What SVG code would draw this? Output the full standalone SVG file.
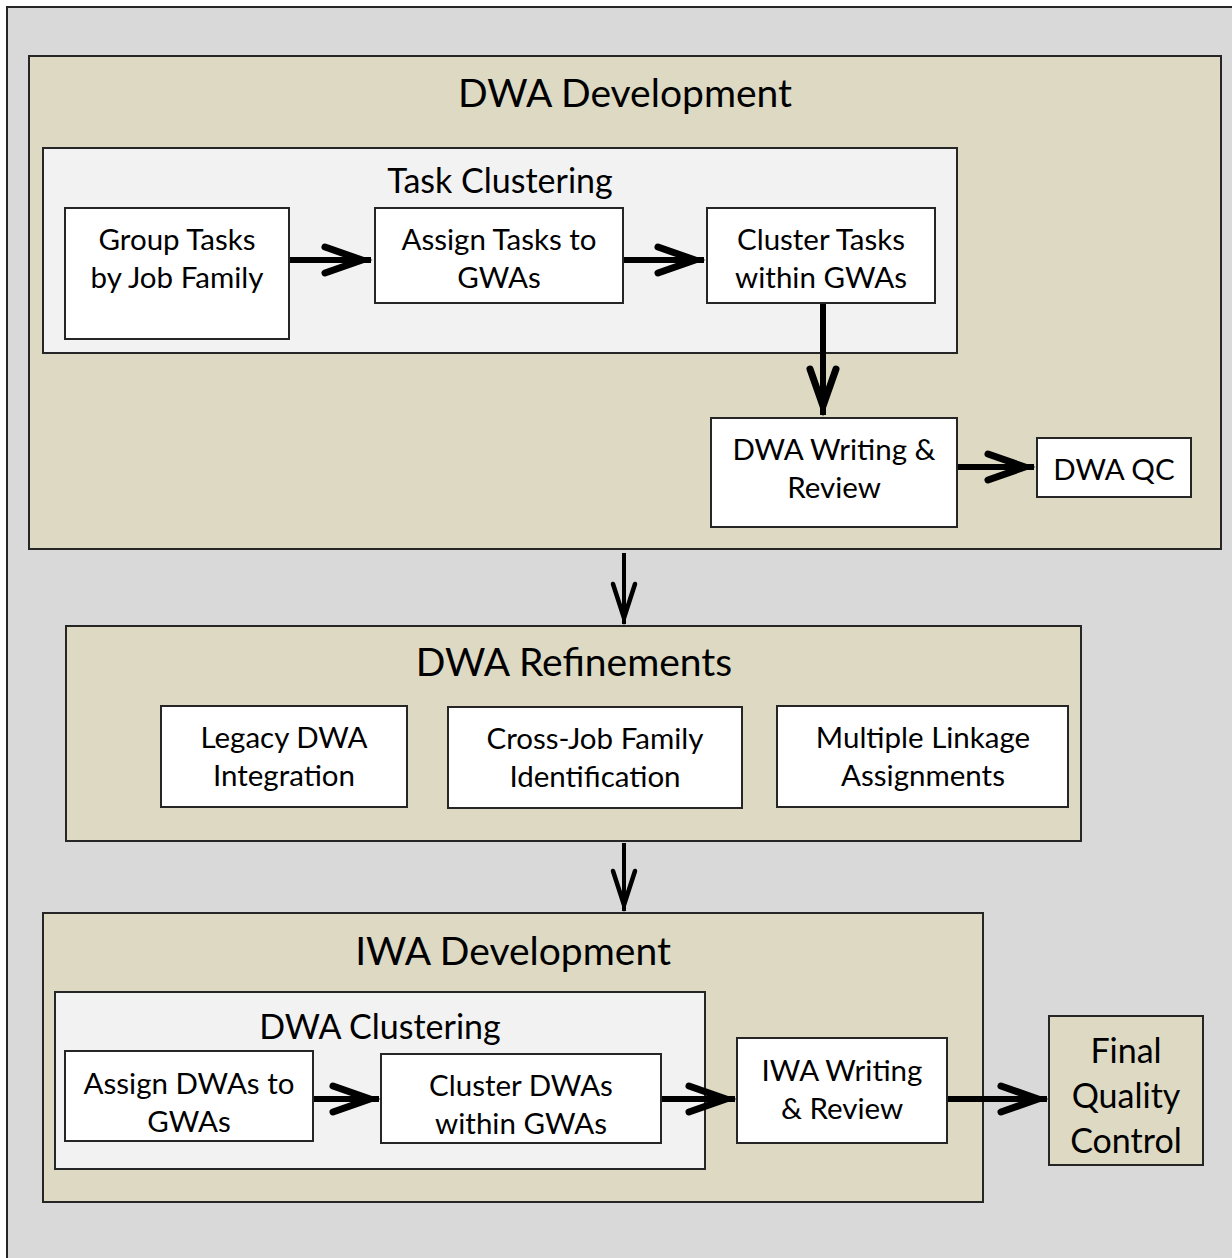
<svg xmlns="http://www.w3.org/2000/svg" width="1232" height="1258" viewBox="0 0 1232 1258">
<defs>
<style>
.outer{fill:#d9d9d9;stroke:#262626;stroke-width:2}
.tan{fill:#ddd9c3;stroke:#262626;stroke-width:2}
.light{fill:#f2f2f2;stroke:#262626;stroke-width:2}
.box{fill:#ffffff;stroke:#262626;stroke-width:2}
text{font-family:Lato,"Open Sans","Liberation Sans",sans-serif;fill:#000;text-anchor:middle}
.t{font-size:29.5px}
.h1{font-size:39px}
.h2{font-size:34px}
.fq{font-size:34px}
.conn{stroke:#000;stroke-width:6;fill:none}
.conn2{stroke:#000;stroke-width:4;fill:none}
</style>
<marker id="arr" markerUnits="userSpaceOnUse" viewBox="-55 -20 60 40" markerWidth="60" markerHeight="40" refX="0" refY="0" orient="auto" overflow="visible">
<path d="M-46,-13 L-9,0 L-46,13" fill="none" stroke="#000" stroke-width="7" stroke-linecap="round" stroke-linejoin="miter"/>
</marker>
<marker id="arrs" markerUnits="userSpaceOnUse" viewBox="-50 -20 55 40" markerWidth="55" markerHeight="40" refX="0" refY="0" orient="auto" overflow="visible">
<path d="M-40,-11 L-6,0 L-40,11" fill="none" stroke="#000" stroke-width="4.5" stroke-linecap="round" stroke-linejoin="miter"/>
</marker>
</defs>
<rect class="outer" x="7" y="7" width="1240" height="1270"/>

<g id="dwa-development">
<rect class="tan" x="29" y="56" width="1192" height="493"/>
<text class="h1" x="625" y="107">DWA Development</text>
</g>
<g id="task-clustering">
<rect class="light" x="43" y="148" width="914" height="205"/>
<text class="h2" x="500" y="193">Task Clustering</text>
</g>
<g id="group-tasks">
<rect class="box" x="65" y="208" width="224" height="131"/>
<text class="t" x="177" y="250">Group Tasks</text>
<text class="t" x="177" y="288">by Job Family</text>
</g>
<g id="assign-tasks">
<rect class="box" x="375" y="208" width="248" height="95"/>
<text class="t" x="499" y="250">Assign Tasks to</text>
<text class="t" x="499" y="288">GWAs</text>
</g>
<g id="cluster-tasks">
<rect class="box" x="707" y="208" width="228" height="95"/>
<text class="t" x="821" y="250">Cluster Tasks</text>
<text class="t" x="821" y="288">within GWAs</text>
</g>
<g id="dwa-writing">
<rect class="box" x="711" y="418" width="246" height="109"/>
<text class="t" x="834" y="460">DWA Writing &amp;</text>
<text class="t" x="834" y="498">Review</text>
</g>
<g id="dwa-qc">
<rect class="box" x="1037" y="438" width="154" height="59"/>
<text class="t" x="1114" y="480">DWA QC</text>
</g>

<g id="dwa-refinements">
<rect class="tan" x="66" y="626" width="1015" height="215"/>
<text class="h1" x="574" y="676">DWA Refinements</text>
</g>
<g id="legacy-dwa">
<rect class="box" x="161" y="706" width="246" height="101"/>
<text class="t" x="284" y="748">Legacy DWA</text>
<text class="t" x="284" y="786">Integration</text>
</g>
<g id="cross-job">
<rect class="box" x="448" y="707" width="294" height="101"/>
<text class="t" x="595" y="749">Cross-Job Family</text>
<text class="t" x="595" y="787">Identification</text>
</g>
<g id="multiple-linkage">
<rect class="box" x="777" y="706" width="291" height="101"/>
<text class="t" x="923" y="748">Multiple Linkage</text>
<text class="t" x="923" y="786">Assignments</text>
</g>

<g id="iwa-development">
<rect class="tan" x="43" y="913" width="940" height="289"/>
<text class="h1" x="513" y="965">IWA Development</text>
</g>
<g id="dwa-clustering">
<rect class="light" x="55" y="992" width="650" height="177"/>
<text class="h2" x="380" y="1039">DWA Clustering</text>
</g>
<g id="assign-dwas">
<rect class="box" x="65" y="1051" width="248" height="90"/>
<text class="t" x="189" y="1094">Assign DWAs to</text>
<text class="t" x="189" y="1132">GWAs</text>
</g>
<g id="cluster-dwas">
<rect class="box" x="381" y="1054" width="280" height="89"/>
<text class="t" x="521" y="1096">Cluster DWAs</text>
<text class="t" x="521" y="1134">within GWAs</text>
</g>
<g id="iwa-writing">
<rect class="box" x="737" y="1038" width="210" height="105"/>
<text class="t" x="842" y="1081">IWA Writing</text>
<text class="t" x="842" y="1119">&amp; Review</text>
</g>
<g id="final-qc">
<rect class="tan" x="1049" y="1016" width="154" height="149"/>
<text class="fq" x="1126" y="1063">Final</text>
<text class="fq" x="1126" y="1108">Quality</text>
<text class="fq" x="1126" y="1153">Control</text>
</g>

<g id="connectors">
<line class="conn" x1="290" y1="260" x2="371" y2="260" marker-end="url(#arr)"/>
<line class="conn" x1="624" y1="260" x2="704" y2="260" marker-end="url(#arr)"/>
<line class="conn" x1="823" y1="304" x2="823" y2="415" marker-end="url(#arr)"/>
<line class="conn" x1="958" y1="467" x2="1034" y2="467" marker-end="url(#arr)"/>
<line class="conn2" x1="624" y1="553" x2="624" y2="624" marker-end="url(#arrs)"/>
<line class="conn2" x1="624" y1="843" x2="624" y2="911" marker-end="url(#arrs)"/>
<line class="conn" x1="314" y1="1099" x2="379" y2="1099" marker-end="url(#arr)"/>
<line class="conn" x1="662" y1="1099" x2="735" y2="1099" marker-end="url(#arr)"/>
<line class="conn" x1="948" y1="1099" x2="1047" y2="1099" marker-end="url(#arr)"/>
</g>
</svg>
